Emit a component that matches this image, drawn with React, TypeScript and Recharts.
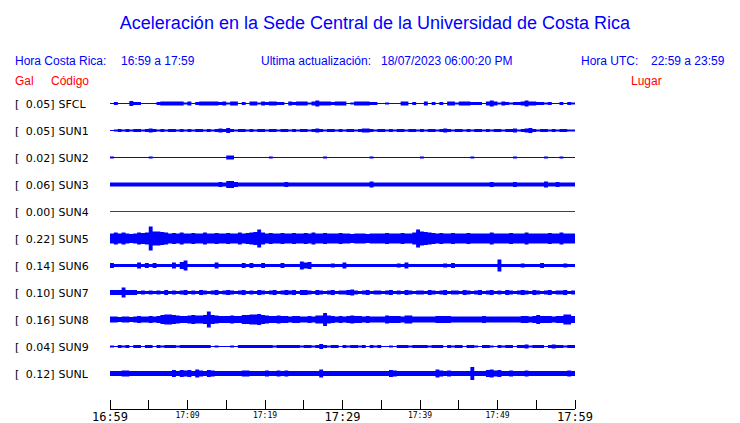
import React from 'react';
import { ComposedChart, Area, XAxis, YAxis } from 'recharts';

// station labels
const CODES = ['SFCL', 'SUN1', 'SUN2', 'SUN3', 'SUN4', 'SUN5', 'SUN6', 'SUN7', 'SUN8', 'SUN9', 'SUNL'];
const PEAKS = [0.05, 0.05, 0.02, 0.06, 0.0, 0.22, 0.14, 0.1, 0.16, 0.04, 0.12];
const PLACES = [
  'Finca El Corralillo, Coronado',
  'CIMAR',
  'Ingenieria P01',
  'Ingenieria P06',
  'EBCI',
  'Rectoria',
  'Agroalimentarias',
  'Archivo',
  'Electrica P06',
  'Electrica P01',
  'LANAMME-CTT',
];

// time axis (minutes after 16:59)
const TICK_MINUTES = [0, 5, 10, 15, 20, 25, 30, 35, 40, 45, 50, 55, 60];
const LABEL_MINUTES = [0, 10, 20, 30, 40, 50, 60];
const TIME_LABELS = ['16:59', '17:09', '17:19', '17:29', '17:39', '17:49', '17:59'];
const MAJOR_MINUTES = [0, 30, 60];

// trace envelopes, half amplitude per 30 s window
const SFCL = [
  0.5, 1.5, 0.5, 0.5, 0.5, 2.5, 1.5, 1.5, 0.5, 0.5,
  0.5, 0.5, 1.5, 2, 2, 2, 2, 2, 2, 1,
  2, 0.5, 1.5, 2, 2, 2, 2, 2, 1.5, 2,
  1, 2, 2, 0.5, 1.5, 0.5, 2, 2, 1, 2,
  1.5, 2, 2, 1.5, 1.5, 0.5, 2, 1.5, 2, 2,
  2, 1, 2, 3, 2, 2, 2, 1.5, 2, 2,
  2, 0.5, 1, 2, 2, 2, 2, 1.5, 1.5, 0.5,
  0.5, 1, 0.5, 0.5, 0.5, 2, 2, 0.5, 1.5, 0.5,
  0.5, 2, 0.5, 1.5, 0.5, 1.5, 0.5, 2, 2, 1,
  2, 2, 2, 1.5, 1.5, 1.5, 0.5, 2, 3, 2,
  1, 2, 1.5, 1, 1.5, 1.5, 2, 3, 2, 2,
  1.5, 1.5, 1, 1.5, 0.5, 0.5, 1.5, 0.5, 1.5, 1,
];
const SUN1 = [
  0.5, 1, 1.5, 1, 1.5, 1, 1.5, 1.5, 1, 1.5,
  2, 1.5, 1, 1.5, 1, 1.5, 1.5, 1, 1.5, 1,
  1.5, 1, 1.5, 1.5, 1, 1.5, 1, 1.5, 2, 1.5,
  2.5, 1.5, 1, 1.5, 1.5, 1, 1.5, 1, 1.5, 1.5,
  1, 1.5, 1.5, 1, 1.5, 1.5, 1, 1.5, 1, 1.5,
  1.5, 1, 1.5, 2, 1.5, 1, 1.5, 1.5, 1, 1.5,
  1, 1.5, 1.5, 1, 1.5, 2, 2, 1.5, 1, 1.5,
  1.5, 1, 1.5, 1, 1.5, 1.5, 1, 1.5, 1.5, 1,
  1.5, 1, 1.5, 1.5, 1, 1.5, 2, 1.5, 1, 1.5,
  1.5, 1, 1.5, 1, 1.5, 1.5, 1, 1.5, 1, 1.5,
  1.5, 1, 1.5, 1.5, 2, 1, 1.5, 2, 2.5, 1.5,
  1, 1.5, 1.5, 1, 1.5, 1, 1.5, 1.5, 1, 1,
];
const SUN2 = [
  1, 0.5, 0.5, 0.5, 0.5, 0.5, 0.5, 0.5, 0.5, 0.5,
  1, 0.5, 0.5, 0.5, 0.5, 0.5, 0.5, 0.5, 0.5, 0.5,
  0.5, 0.5, 0.5, 0.5, 0.5, 0.5, 0.5, 0.5, 0.5, 0.5,
  2, 2, 0.5, 0.5, 0.5, 0.5, 0.5, 0.5, 0.5, 0.5,
  0.5, 1, 0.5, 0.5, 0.5, 0.5, 0.5, 0.5, 0.5, 0.5,
  0.5, 0.5, 0.5, 0.5, 0.5, 1, 0.5, 0.5, 0.5, 0.5,
  0.5, 0.5, 0.5, 0.5, 0.5, 0.5, 0.5, 1, 0.5, 0.5,
  0.5, 0.5, 0.5, 0.5, 0.5, 0.5, 0.5, 0.5, 0.5, 0.5,
  1, 0.5, 0.5, 0.5, 0.5, 0.5, 0.5, 0.5, 0.5, 0.5,
  0.5, 0.5, 0.5, 1, 0.5, 0.5, 0.5, 0.5, 0.5, 0.5,
  0.5, 0.5, 0.5, 0.5, 1, 0.5, 0.5, 0.5, 0.5, 0.5,
  0.5, 0.5, 1, 0.5, 0.5, 0.5, 1, 0.5, 0.5, 0.5,
];
const SUN3 = [
  2, 2, 2, 2, 2, 2, 2, 2, 2, 2,
  2, 2, 2, 2, 2, 2, 2, 2, 2, 2,
  2, 2, 2, 2, 2, 2, 2, 2, 2.5, 2,
  3.5, 3.5, 2.5, 2, 2, 2, 2, 2, 2, 2,
  2, 2, 2, 2, 2, 2.5, 2, 2, 2, 2,
  2, 2, 2, 2, 2, 2, 2, 2, 2, 2,
  2, 2, 2, 2, 2, 2, 2, 3, 2, 2,
  2, 2, 2, 2, 2, 2, 2, 2, 2, 2,
  2, 2, 2, 2, 2, 2, 2, 2, 2, 2,
  2, 2, 2, 2, 2, 2, 2, 2, 2.5, 2,
  2, 2, 2, 2, 2.5, 2, 2, 2, 2, 2,
  2, 2, 3, 2, 2, 2.5, 2, 2, 2, 2,
];
const SUN4 = [0.5];
const SUN5 = [
  5, 6, 5, 6, 5, 4.5, 5, 6, 5.5, 6,
  12, 7, 7, 6.5, 6, 5, 5.5, 5, 6, 5,
  5, 5.5, 5, 5, 6, 5, 5, 5.5, 5, 5,
  5.5, 5, 5, 6, 5, 5.5, 6, 6.5, 9, 6,
  5, 5.5, 5, 5, 5.5, 5, 5, 5.5, 5, 5,
  5.5, 5, 6, 5, 5, 5.5, 5, 5, 5, 5.5,
  5, 5, 4.5, 5, 5, 5, 4.5, 5, 5, 5,
  5, 5.5, 5, 5, 5, 5.5, 5, 5, 6, 9,
  7, 6.5, 6, 5.5, 5, 5.5, 5, 5, 5.5, 5,
  5, 5, 5.5, 5, 5, 5, 5, 5, 6, 5,
  5, 5, 5, 5.5, 5, 5, 5, 6, 5, 5,
  5, 5, 5, 5.5, 5, 5, 6, 5, 5, 5,
];
const SUN6 = [
  2.5, 1.5, 1.5, 1.5, 1.5, 1.5, 1.5, 3, 1.5, 2.5,
  1.5, 2.5, 1.5, 1.5, 1.5, 1.5, 3, 1.5, 3.5, 5,
  1.5, 1.5, 1.5, 1.5, 1.5, 1.5, 1.5, 3, 1.5, 1.5,
  1.5, 1.5, 1.5, 1.5, 2.5, 1.5, 2.5, 1.5, 1.5, 2.5,
  1.5, 1.5, 1.5, 1.5, 2.5, 1.5, 1.5, 1.5, 1.5, 4,
  3, 3.5, 1.5, 1.5, 1.5, 1.5, 1.5, 2, 1.5, 1.5,
  3, 1.5, 1.5, 1.5, 1.5, 1.5, 1.5, 1.5, 1.5, 1.5,
  1.5, 1.5, 1.5, 1.5, 2, 1.5, 3, 1.5, 1.5, 1.5,
  1.5, 1.5, 1.5, 1.5, 1.5, 1.5, 2, 1.5, 2.5, 1.5,
  1.5, 1.5, 1.5, 1.5, 1.5, 1.5, 1.5, 1.5, 1.5, 1.5,
  6, 1.5, 1.5, 1.5, 1.5, 1.5, 2, 1.5, 1.5, 1.5,
  1.5, 2.5, 1.5, 1.5, 1.5, 1.5, 1.5, 2, 1.5, 1.5,
];
const SUN7 = [
  2.5, 2.5, 2.5, 5, 2.5, 2.5, 2.5, 1.5, 2, 1.5,
  2, 1.5, 2, 1.5, 2.5, 1.5, 2, 1.5, 2, 2.5,
  1.5, 2, 1.5, 2.5, 2, 1.5, 2, 2.5, 1.5, 2,
  2.5, 2, 1.5, 2, 2.5, 1.5, 2, 1.5, 2.5, 2,
  1.5, 2, 2.5, 1.5, 2, 2.5, 2, 2.5, 1.5, 2.5,
  2.5, 2, 1.5, 2.5, 2, 1.5, 2, 2.5, 1.5, 2,
  2, 2.5, 3, 2, 1.5, 2, 2.5, 1.5, 2, 2,
  1.5, 2, 2.5, 1.5, 2, 1.5, 2.5, 2, 1.5, 2,
  2, 1.5, 2.5, 2, 1.5, 2, 2.5, 1.5, 2, 2,
  1.5, 2.5, 2, 1.5, 2, 2.5, 1.5, 2, 2.5, 1.5,
  2, 1.5, 2.5, 2, 1.5, 2, 2.5, 2, 1.5, 2.5,
  2, 1.5, 2, 2.5, 1.5, 2, 2, 2.5, 1.5, 2,
];
const SUN8 = [
  3, 3, 2.5, 3, 3, 2.5, 3, 3.5, 3, 3,
  3.5, 3, 3.5, 4.5, 5, 5, 4.5, 4, 3.5, 3.5,
  4, 4.5, 4, 4, 4.5, 8, 4.5, 4, 3.5, 3.5,
  3.5, 4, 3.5, 3.5, 4.5, 4.5, 5, 5, 5.5, 4.5,
  4, 3.5, 3.5, 4, 3.5, 3.5, 3, 3.5, 3.5, 3,
  3, 3.5, 3, 4, 4, 6.5, 4, 3.5, 3, 3.5,
  3, 3.5, 4, 3.5, 3.5, 3, 3.5, 3, 3, 3,
  3, 4, 3.5, 3.5, 3.5, 3, 4, 4, 3, 3,
  3, 3, 3, 3, 3.5, 3.5, 3.5, 3.5, 3, 3,
  3, 3, 3, 3, 3, 3, 3.5, 3, 3, 3,
  3, 3, 3, 3, 3, 3, 3.5, 3.5, 3, 3.5,
  4.5, 3.5, 3.5, 3.5, 3, 3.5, 3.5, 5, 5, 3.5,
];
const SUN9 = [
  1, 0.5, 1.5, 1, 1.5, 0.5, 1.5, 1.5, 0.5, 1.5,
  1.5, 0.5, 1.5, 1, 1.5, 1.5, 1.5, 1, 1.5, 1.5,
  1.5, 1.5, 1.5, 1.5, 1.5, 1.5, 0.5, 1, 0.5, 0.5,
  0.5, 1, 0.5, 1.5, 1.5, 1.5, 1.5, 1.5, 1.5, 1.5,
  1.5, 1.5, 1, 1.5, 1.5, 1.5, 1.5, 1.5, 1.5, 1,
  1.5, 1.5, 1, 1.5, 2.5, 1.5, 1, 1.5, 1.5, 0.5,
  1.5, 1, 1.5, 1.5, 1, 1.5, 0.5, 1.5, 1, 1.5,
  0.5, 0.5, 1, 0.5, 1.5, 1.5, 1.5, 1, 1.5, 1.5,
  1.5, 1.5, 1, 1.5, 1.5, 1.5, 0.5, 1.5, 1, 1.5,
  1.5, 0.5, 1.5, 1.5, 1, 0.5, 1.5, 1.5, 1, 0.5,
  1.5, 1, 1.5, 1.5, 0.5, 1.5, 1.5, 2, 1, 1.5,
  1.5, 1.5, 0.5, 1.5, 2, 1.5, 1.5, 1, 1.5, 1.5,
];
const SUNL = [
  2.5, 2.5, 2.5, 3, 3, 2.5, 2.5, 2.5, 2.5, 2.5,
  2.5, 2.5, 2.5, 2.5, 2.5, 2.5, 3.5, 2.5, 3.5, 3,
  3.5, 2.5, 4, 3, 2.5, 3.5, 3, 2.5, 2.5, 2.5,
  2.5, 2.5, 2.5, 2.5, 3, 3, 2.5, 2.5, 2.5, 2.5,
  3, 2.5, 2.5, 3, 2.5, 3, 2.5, 2.5, 2.5, 2.5,
  2.5, 2.5, 2.5, 2.5, 4, 2.5, 2.5, 2.5, 2.5, 2.5,
  2.5, 2.5, 2.5, 2.5, 2.5, 2.5, 2.5, 2.5, 2.5, 2.5,
  2.5, 2.5, 3.5, 3, 2.5, 2.5, 2.5, 2.5, 2.5, 2.5,
  2.5, 2.5, 2.5, 2.5, 4, 3, 2.5, 3, 2.5, 2.5,
  2.5, 2.5, 2.5, 6.5, 2.5, 2.5, 2.5, 3.5, 4, 3,
  3.5, 2.5, 2.5, 3, 2.5, 2.5, 2.5, 3, 2.5, 2.5,
  2.5, 2.5, 2.5, 2.5, 2.5, 2.5, 2.5, 2.5, 3, 2.5,
];

const TRACES = [SFCL, SUN1, SUN2, SUN3, SUN4, SUN5, SUN6, SUN7, SUN8, SUN9, SUNL];

const MINUTES = 60;
const ROW = 27;
const PLOT_H = 319;
const BLUE = '#0000ff';
const RED = '#ff0000';

const rowCenter = (i: number) => ROW * (i + 0.5);
const ROW_TICKS = CODES.map((_, i) => rowCenter(i));

function buildTrace(values: number[], row: number) {
  const c = rowCenter(row);
  const step = MINUTES / values.length;
  const pts = values.map((a, i) => ({ t: i * step, band: [c - a, c + a] }));
  const last = values[values.length - 1];
  pts.push({ t: MINUTES, band: [c - last, c + last] });
  return pts;
}

const labelFont = { fontFamily: 'DejaVu Sans', fontSize: 11, fill: '#000' };

const LeftTick = (props: any) => {
  const { y, index } = props;
  return (
    <g style={labelFont}>
      <text x={15} y={y + 4.5}>[</text>
      <text x={54.5} y={y + 4.5} textAnchor="end">{PEAKS[index].toFixed(2)}]</text>
      <text x={58.5} y={y + 4.5}>{CODES[index]}</text>
    </g>
  );
};

const RightTick = (props: any) => {
  const { y, index } = props;
  return (
    <text x={587} y={y + 4.5} style={labelFont}>
      {PLACES[index]}
    </text>
  );
};

const TimeTick = (props: any) => {
  const { x, y, payload } = props;
  const m = payload.value;
  const li = LABEL_MINUTES.indexOf(m);
  const major = MAJOR_MINUTES.includes(m);
  return (
    <g>
      <line x1={x} x2={x} y1={y - 9} y2={y} stroke="#000" shapeRendering="crispEdges" />
      {li >= 0 && (
        <text
          x={x}
          y={major ? y + 11.5 : y + 8.5}
          textAnchor="middle"
          fontFamily="DejaVu Sans Mono"
          fontSize={major ? 12 : 8}
          fill="#000"
        >
          {TIME_LABELS[li]}
        </text>
      )}
    </g>
  );
};

const headFont = { fontFamily: 'Liberation Sans', fontSize: 12 };

export default function App() {
  return (
    <div style={{ position: 'absolute', left: 0, top: 0, width: 740, height: 423, background: '#fff' }}>
      <ComposedChart width={740} height={423} margin={{ top: 90, right: 0, bottom: 0, left: 0 }}>
        <XAxis
          dataKey="t"
          type="number"
          domain={[0, MINUTES]}
          ticks={TICK_MINUTES}
          interval={0}
          height={14}
          tickSize={0}
          tickMargin={0}
          tickLine={false}
          axisLine={{ stroke: '#000', shapeRendering: 'crispEdges' }}
          tick={<TimeTick />}
          allowDataOverflow
        />
        <YAxis
          yAxisId="left"
          type="number"
          domain={[0, PLOT_H]}
          reversed
          ticks={ROW_TICKS}
          interval={0}
          width={110}
          axisLine={false}
          tickLine={false}
          tick={<LeftTick />}
        />
        <YAxis
          yAxisId="right"
          orientation="right"
          type="number"
          domain={[0, PLOT_H]}
          reversed
          ticks={ROW_TICKS}
          interval={0}
          width={165}
          axisLine={false}
          tickLine={false}
          tick={<RightTick />}
        />
        {TRACES.map((vals, i) => (
          <Area
            key={CODES[i]}
            yAxisId="left"
            data={buildTrace(vals, i)}
            dataKey="band"
            type="stepAfter"
            stroke="none"
            fill={CODES[i] === 'SUN4' ? '#dd0000' : BLUE}
            fillOpacity={1}
            isAnimationActive={false}
            dot={false}
            activeDot={false}
          />
        ))}
      </ComposedChart>
      <svg width={740} height={90} style={{ position: 'absolute', left: 0, top: 0 }}>
        <text x={375} y={29} textAnchor="middle" fontFamily="Liberation Sans" fontSize={18} fill={BLUE}>
          Aceleración en la Sede Central de la Universidad de Costa Rica
        </text>
        <g style={headFont} fill={BLUE}>
          <text x={15} y={65}>Hora Costa Rica:</text>
          <text x={121} y={65}>16:59 a 17:59</text>
          <text x={261} y={65}>Ultima actualización:</text>
          <text x={381} y={65}>18/07/2023 06:00:20 PM</text>
          <text x={581} y={65}>Hora UTC:</text>
          <text x={651} y={65}>22:59 a 23:59</text>
        </g>
        <g style={headFont} fill={RED}>
          <text x={15} y={85}>Gal</text>
          <text x={51} y={85}>Código</text>
          <text x={631} y={85}>Lugar</text>
        </g>
      </svg>
    </div>
  );
}
